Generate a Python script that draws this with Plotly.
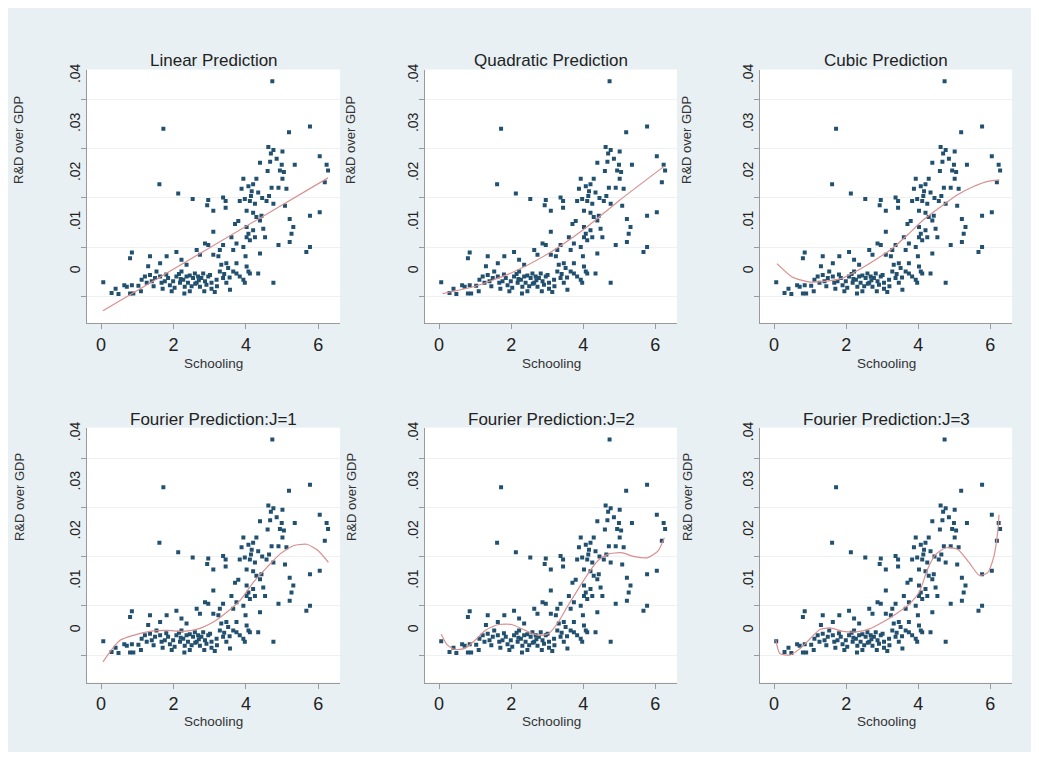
import plotly.graph_objects as go

# ---------------- data ----------------
schooling = [
    4.73, 1.72, 5.19, 5.77, 4.62, 4.76, 4.69, 4.67, 5.01, 4.39, 5.35, 6.04, 6.23, 6.27, 6.18, 4.94, 5.05, 4.99,
    1.61, 2.13, 2.53, 2.96, 2.93, 3.10, 3.10, 3.44, 3.70, 3.79, 3.83, 3.88, 3.93, 3.97, 4.02, 4.02, 4.07, 4.11,
    4.16, 4.20, 4.25, 4.29, 4.29, 4.20, 4.39, 4.43, 4.48, 4.53, 4.25, 4.39, 4.57, 4.64, 4.71, 4.76, 4.90, 5.01,
    5.12, 5.21, 5.31, 5.26, 5.21, 5.08, 4.90, 5.77, 6.04, 5.77, 5.67, 3.37, 3.44, 4.07, 4.14, 4.34, 4.02, 4.11,
    3.60, 3.28, 3.74, 3.51, 3.32, 4.02,
    0.85, 0.80, 1.35, 1.63, 1.81, 2.08, 2.22, 2.36, 2.64, 2.73, 2.87, 2.96, 3.10, 3.24, 3.37, 3.46, 3.65, 3.74,
    3.93, 3.99,
    0.06, 0.29, 0.48, 0.64, 0.80, 0.89, 0.85, 0.71, 1.03, 1.12, 1.21, 1.30, 1.35, 1.40, 1.26, 1.49, 1.53, 1.63,
    1.67, 1.76, 1.85, 1.90, 1.99, 2.03, 2.08, 2.18, 2.22, 2.27, 2.31, 2.36, 2.40, 2.45, 2.54, 2.59, 2.64, 2.68,
    2.73, 2.77, 2.82, 2.87, 2.91, 2.96, 3.01, 3.05, 3.14, 3.19, 3.28, 3.37, 3.46, 3.56, 3.65, 3.74, 3.83, 3.93,
    3.97, 4.07, 4.11, 4.34, 4.76,
    1.95, 2.50, 2.30, 1.70, 3.20, 2.85, 1.45, 2.15, 2.60, 3.40, 1.10, 0.40,
    2.20, 2.70, 2.45, 1.80, 3.05, 3.55, 4.20, 4.45, 4.60, 4.85,
]
rd_gdp = [
    0.0388, 0.0291, 0.0284, 0.0296, 0.0254, 0.0248, 0.0241, 0.0224, 0.0245, 0.0222, 0.0218, 0.0235, 0.0218, 0.0206, 0.0182, 0.0206, 0.0203, 0.0218,
    0.0178, 0.0159, 0.0148, 0.0146, 0.0135, 0.0124, 0.0081, 0.0130, 0.0097, 0.0103, 0.0144, 0.0169, 0.0189, 0.0148, 0.0124, 0.0091, 0.0077, 0.0144,
    0.0164, 0.0178, 0.0138, 0.0189, 0.0111, 0.0084, 0.0104, 0.0114, 0.0087, 0.0070, 0.0070, 0.0037, 0.0144, 0.0154, 0.0171, 0.0138, 0.0171, 0.0189,
    0.0169, 0.0107, 0.0091, 0.0077, 0.0060, 0.0134, 0.0054, 0.0114, 0.0121, 0.0050, 0.0040, 0.0151, 0.0144, 0.0174, 0.0154, 0.0161, 0.0070, 0.0064,
    0.0070, 0.0044, 0.0057, 0.0007, 0.0014, 0.0010,
    0.0039, 0.0027, 0.0031, 0.0017, 0.0031, 0.0040, 0.0024, 0.0014, 0.0044, 0.0034, 0.0057, 0.0054, 0.0034, 0.0031, 0.0054, 0.0017, 0.0044, 0.0017,
    0.0050, 0.0031,
    -0.0022, -0.0044, -0.0046, -0.0028, -0.0045, -0.0045, -0.0028, -0.0031, -0.0029, -0.0017, -0.0010, 0.0011, -0.0007, -0.0020, -0.0023, -0.0013, 0.0000, -0.0010,
    -0.0023, -0.0020, -0.0013, -0.0028, -0.0020, -0.0033, -0.0010, -0.0023, 0.0000, -0.0017, -0.0031, -0.0010, -0.0023, -0.0040, -0.0013, -0.0004, -0.0023, -0.0010,
    -0.0031, -0.0013, -0.0004, -0.0020, -0.0027, -0.0010, -0.0007, -0.0023, -0.0042, -0.0017, 0.0000, -0.0013, -0.0023, -0.0037, 0.0000, -0.0004, -0.0010, -0.0017,
    -0.0023, 0.0000, -0.0004, -0.0004, -0.0023,
    -0.0040, -0.0030, -0.0045, -0.0035, -0.0030, -0.0040, -0.0030, -0.0005, -0.0025, -0.0005, -0.0040, -0.0035,
    -0.0015, -0.0018, -0.0008, -0.0006, -0.0035, -0.0012, 0.0120, 0.0150, 0.0205, 0.0230,
]

panel_titles = ["Linear Prediction", "Quadratic Prediction", "Cubic Prediction",
                "Fourier Prediction:J=1", "Fourier Prediction:J=2", "Fourier Prediction:J=3"]

# fitted curves
linear_x = [0.05, 6.27]
linear_y = [-0.0080, 0.0191]
quad_x = [0.1, 1.0, 2.0, 3.0, 4.0, 5.0, 6.25]
quad_y = [-0.0045, -0.0030, -0.0003, 0.0035, 0.0085, 0.0145, 0.0215]
cubic_x = [0.08, 0.50, 0.96, 1.41, 1.88, 2.34, 2.79, 3.26, 3.72, 4.17, 4.64, 5.10, 5.55, 5.93, 6.25]
cubic_y = [0.0016, -0.0011, -0.0021, -0.0020, -0.0014, 0.0003, 0.0023, 0.0046, 0.0076, 0.0107, 0.0133, 0.0157, 0.0174, 0.0184, 0.0187]
four1_x = [0.05, 0.25, 0.52, 0.89, 1.35, 1.81, 2.27, 2.73, 3.10, 3.47, 3.84, 4.21, 4.58, 4.94, 5.31, 5.68, 6.00, 6.28]
four1_y = [-0.0064, -0.0043, -0.0020, -0.0010, -0.0002, 0.0000, -0.0002, 0.0004, 0.0017, 0.0037, 0.0061, 0.0098, 0.0128, 0.0155, 0.0172, 0.0175, 0.0162, 0.0138]
four2_x = [0.06, 0.22, 0.45, 0.73, 1.00, 1.28, 1.65, 2.02, 2.39, 2.75, 3.03, 3.31, 3.58, 3.86, 4.13, 4.41, 4.69, 5.05, 5.42, 5.79, 6.07, 6.25]
four2_y = [-0.0008, -0.0029, -0.0039, -0.0036, -0.0020, 0.0000, 0.0012, 0.0012, 0.0000, -0.0010, -0.0007, 0.0017, 0.0051, 0.0084, 0.0115, 0.0142, 0.0155, 0.0158, 0.0150, 0.0148, 0.0161, 0.0188]
four3_x = [0.05, 0.16, 0.44, 0.72, 1.00, 1.27, 1.55, 1.92, 2.28, 2.65, 3.02, 3.39, 3.76, 4.03, 4.26, 4.49, 4.77, 5.09, 5.41, 5.69, 5.92, 6.10, 6.20, 6.24]
four3_y = [-0.0020, -0.0047, -0.0050, -0.0037, -0.0017, 0.0002, 0.0005, -0.0002, -0.0003, 0.0003, 0.0017, 0.0034, 0.0054, 0.0078, 0.0125, 0.0155, 0.0168, 0.0165, 0.0138, 0.0112, 0.0117, 0.0151, 0.0198, 0.0235]

fits = [(linear_x, linear_y), (quad_x, quad_y), (cubic_x, cubic_y),
        (four1_x, four1_y), (four2_x, four2_y), (four3_x, four3_y)]

x_ticks = [0, 2, 4, 6]
y_ticks = [0, 0.01, 0.02, 0.03, 0.04]
y_ticktext = ["0", ".01", ".02", ".03", ".04"]
y_minor = [-0.005, 0.005, 0.015, 0.025, 0.035]

# ---------------- layout geometry (window pixels) ----------------
WIN_W, WIN_H = 1039, 760
OFF = 8                      # default page body margin around the figure
W, H = WIN_W - 2 * OFF, WIN_H - 2 * OFF
col_px = [(87, 340), (425, 677), (760, 1012)]
row_px = [(64, 320), (425, 682)]
ytitle_x = [19, 351, 687]
ytitle_y = [135, 495]
title_y = [55, 417]
xtitle_y = [360, 721]

FONT = "Liberation Sans, Arial, Helvetica, sans-serif"
MARK = "#22506f"
LINE = "#d98f8f"
AXC = "#9a9a9a"

def fx(p):
    return (p - OFF) / W

def fy(p):
    return 1 - (p - OFF) / H

fig = go.Figure()
layout = {}
annotations = []

for i in range(6):
    r, c = divmod(i, 3)
    s = "" if i == 0 else str(i + 1)
    fx_, fy_ = fits[i]
    fig.add_trace(go.Scatter(
        x=schooling, y=rd_gdp, mode="markers",
        marker=dict(symbol="square", size=4, color=MARK, line=dict(width=0)),
        xaxis="x" + s, yaxis="y" + s, showlegend=False, hoverinfo="skip"))
    fig.add_trace(go.Scatter(
        x=fx_, y=fy_, mode="lines", line=dict(color=LINE, width=1.2, shape="spline", smoothing=0.6),
        xaxis="x" + s, yaxis="y" + s, showlegend=False, hoverinfo="skip"))

    x0, x1 = col_px[c]
    y0, y1 = row_px[r]
    layout["xaxis" + s] = dict(
        domain=[fx(x0), fx(x1)], anchor="y" + s, range=[-0.39, 6.6],
        tickvals=x_ticks, ticks="outside", ticklen=5, tickcolor=AXC,
        showline=True, linecolor=AXC, linewidth=1, showgrid=False, zeroline=False,
        tickfont=dict(family=FONT, size=18, color="#222"))
    layout["yaxis" + s] = dict(
        domain=[fy(y1), fy(y0)], anchor="x" + s, range=[-0.0106, 0.0412],
        tickvals=y_ticks, ticktext=y_ticktext, ticks="", tickangle=-90,
        showline=True, linecolor=AXC, linewidth=1, showgrid=False, zeroline=False,
        tickfont=dict(family=FONT, size=14, color="#222"),
        minor=dict(tickvals=y_minor, ticks="outside", ticklen=5, tickcolor=AXC,
                   showgrid=True, gridcolor="#eef1f2", gridwidth=1))

    cx = (x0 + x1) / 2
    annotations.append(dict(text=panel_titles[i], x=fx(cx), y=fy(title_y[r]), xref="paper", yref="paper",
                            xanchor="center", yanchor="middle", showarrow=False,
                            font=dict(family=FONT, size=17, color="#222")))
    annotations.append(dict(text="Schooling", x=fx(cx), y=fy(xtitle_y[r]), xref="paper", yref="paper",
                            xanchor="center", yanchor="middle", showarrow=False,
                            font=dict(family=FONT, size=13.5, color="#333")))
    annotations.append(dict(text="R&D over GDP", x=fx(ytitle_x[c]), y=fy(ytitle_y[r]), xref="paper", yref="paper",
                            xanchor="center", yanchor="middle", showarrow=False, textangle=-90,
                            font=dict(family=FONT, size=13, color="#333")))

fig.update_layout(
    width=W, height=H, margin=dict(l=0, r=0, t=0, b=0),
    paper_bgcolor="#e8f0f3", plot_bgcolor="white",
    font=dict(family=FONT),
    annotations=annotations, showlegend=False,
    **layout)

fig.write_html("out.html")
